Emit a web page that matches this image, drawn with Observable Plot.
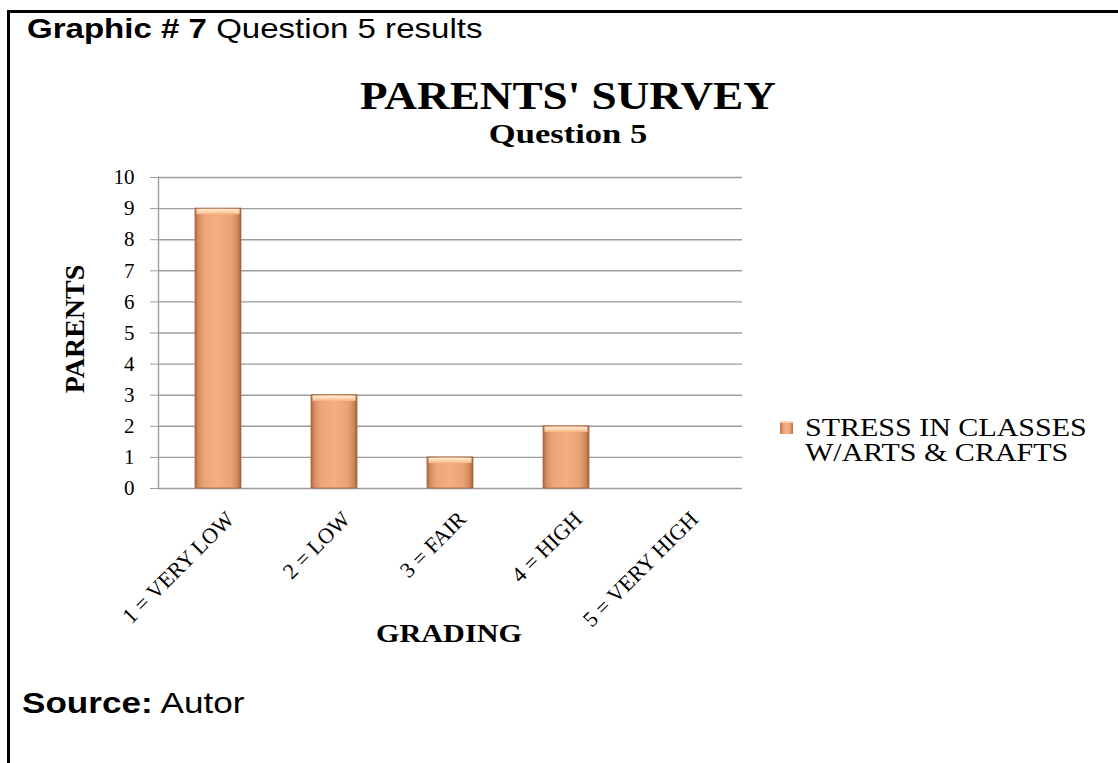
<!DOCTYPE html>
<html><head><meta charset="utf-8">
<script src="https://cdn.jsdelivr.net/npm/d3@7"></script>
<script src="https://cdn.jsdelivr.net/npm/@observablehq/plot@0.6"></script>
<style>
body{margin:0;background:#fff;}
#page{position:relative;width:1118px;height:763px;overflow:hidden;background:#fff;}
#frame{position:absolute;left:7px;top:10px;width:1111px;height:753px;border-left:3px solid #000;border-top:3px solid #000;box-sizing:border-box;}
.abs{position:absolute;white-space:nowrap;line-height:1;color:#000;}
.sans{font-family:"Liberation Sans",Arial,sans-serif;}
.serif{font-family:"Liberation Serif","Times New Roman",serif;}
#chart{position:absolute;left:0;top:0;}
</style></head>
<body>
<div id="page">
  <div id="frame"></div>
  <div class="abs sans" id="hdr" style="left:27px;top:15px;font-size:28px;transform:scaleX(1.18);transform-origin:0 0;"><b>Graphic # 7</b> Question 5 results</div>
  <div class="abs serif" id="t1" style="left:0;width:1136px;text-align:center;top:76px;font-size:40px;font-weight:bold;transform:scaleX(1.13);transform-origin:568px 0;">PARENTS' SURVEY</div>
  <div class="abs serif" id="t2" style="left:0;width:1136px;text-align:center;top:121px;font-size:27px;font-weight:bold;transform:scaleX(1.28);transform-origin:568px 0;">Question 5</div>
  <div id="chart"></div>
  <div class="abs serif" id="ylab" style="left:75px;top:329px;font-size:28px;font-weight:bold;transform:translate(-50%,-50%) rotate(-90deg);">PARENTS</div>
  <div class="abs serif" id="xlab" style="left:0;width:898px;text-align:center;top:621px;font-size:26px;font-weight:bold;transform:scaleX(1.16);transform-origin:449px 0;">GRADING</div>
  <div class="abs serif" id="legend" style="left:780px;top:415px;font-size:25px;line-height:25px;">
    <span id="swatch" style="display:inline-block;width:13px;height:13px;margin-right:12px;vertical-align:2px;"></span><span id="l1" style="display:inline-block;transform:scaleX(1.2);transform-origin:0 0;"></span><br><span id="l2" style="display:inline-block;margin-left:25px;transform:scaleX(1.2);transform-origin:0 0;"></span>
  </div>
  <div class="abs sans" id="src" style="left:22px;top:689px;font-size:29px;transform:scaleX(1.21);transform-origin:0 0;"><b>Source:</b> Autor</div>
</div>
<script>
const categories = ["1 = VERY LOW", "2 = LOW", "3 = FAIR", "4 = HIGH", "5 = VERY HIGH"];
const values = [9, 3, 1, 2, 0];
const yTicks = [0, 1, 2, 3, 4, 5, 6, 7, 8, 9, 10];
const seriesLines = ["STRESS IN CLASSES", "W/ARTS & CRAFTS"];

const data = categories.map((c, i) => ({grade: c, parents: values[i]}));

document.getElementById("l1").textContent = seriesLines[0];
document.getElementById("l2").textContent = seriesLines[1];
document.getElementById("swatch").style.background =
  "linear-gradient(90deg,#b8714a 0%,#eaa276 25%,#f5b085 50%,#eaa276 75%,#b8714a 100%)";
document.getElementById("swatch").style.boxShadow = "inset 0 2px 0 #ffd2ae";

const defs = () => {
  const d = d3.create("svg:defs");
  const g = d.append("linearGradient").attr("id", "barGrad")
    .attr("x1", 0).attr("x2", 1).attr("y1", 0).attr("y2", 0);
  [[0, "#a9673f"], [0.07, "#d48b5e"], [0.2, "#eda479"], [0.5, "#f5ae80"], [0.8, "#eaa175"], [0.93, "#d08859"], [1, "#9e5f3a"]]
    .forEach(([o, c]) => g.append("stop").attr("offset", o).attr("stop-color", c));
  const t = d.append("linearGradient").attr("id", "topGrad")
    .attr("x1", 0).attr("x2", 0).attr("y1", 0).attr("y2", 1);
  [[0, "#fff0dc"], [0.5, "#ffd3ab"], [1, "#f6b487"]]
    .forEach(([o, c]) => t.append("stop").attr("offset", o).attr("stop-color", c));
  const f = d.append("filter").attr("id", "shadow").attr("x", "-20%").attr("y", "-20%").attr("width", "150%").attr("height", "150%");
  f.append("feDropShadow").attr("dx", 2).attr("dy", 2).attr("stdDeviation", 1.5).attr("flood-color", "#000").attr("flood-opacity", 0.3);
  return d.node();
};

const chart = Plot.plot({
  width: 1118,
  height: 763,
  marginLeft: 158,
  marginRight: 376,
  marginTop: 177,
  marginBottom: 275,
  style: {fontFamily: "'Liberation Serif','Times New Roman',serif", fontSize: "21px", color: "#000", background: "transparent"},
  x: {domain: categories, paddingInner: 0.6, paddingOuter: 0.3, label: null},
  y: {domain: [0, 10], label: null},
  marks: [
    defs,
    Plot.gridY(yTicks, {stroke: "#9c9c9c", strokeOpacity: 1, strokeWidth: 1.4}),
    Plot.axisY(yTicks, {tickSize: 8, tickPadding: 16, stroke: "#9c9c9c", strokeOpacity: 1, fontSize: 21, label: null, style: {letterSpacing: "3px"}}),
    Plot.frame({anchor: "left", stroke: "#9c9c9c", strokeWidth: 1.4}),
    Plot.axisX({tickSize: 0, tickRotate: -45, tickPadding: 26, dy: 1, dx: 12, fontSize: 22, label: null, style: {letterSpacing: "1.5px"}}),
    Plot.barY(data, {x: "grade", y: "parents", fill: "url(#barGrad)", stroke: "#a86a44", strokeWidth: 0.8, filter: d => d.parents > 0, style: {filter: "url(#shadow)"}}),
    Plot.barY(data, {x: "grade", y1: "parents", y2: d => d.parents - 0.2, fill: "url(#topGrad)", insetLeft: 1.5, insetRight: 1.5, insetTop: 1, filter: d => d.parents > 0})
  ]
});
document.getElementById("chart").appendChild(chart);
</script>
</body></html>
